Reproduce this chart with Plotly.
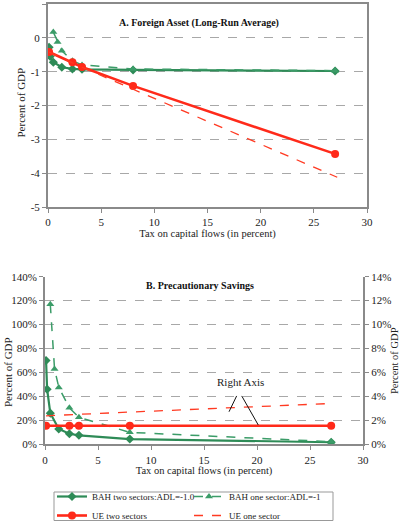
import plotly.graph_objects as go

# ---------------- data ----------------
# Panel A: Foreign asset (long-run average), percent of GDP
bah2_x = [0.1, 0.2, 0.5, 1.3, 2.3, 3.2, 8, 27]
bah2_a = [-0.28, -0.55, -0.72, -0.87, -0.92, -0.93, -0.95, -0.98]
bah1_x = [0.5, 0.9, 1.3, 2.3, 3.2, 8, 27]
bah1_a = [0.17, -0.12, -0.38, -0.68, -0.8, -0.92, -0.97]
ue2_x = [0.1, 2.3, 3.2, 8, 27]
ue2_a = [-0.42, -0.72, -0.86, -1.42, -3.43]
ue1_x = [0.1, 2.3, 3.2, 8, 27.2]
ue1_a = [-0.42, -0.74, -0.87, -1.52, -4.12]

# Panel B: Precautionary savings
bah2_b = [70, 46, 26, 12.8, 8.8, 7.5, 4.4, 1.7]          # left axis, %
bah1_b = [117, 63, 47.5, 30.5, 22.5, 10, 2.2]            # left axis, %
ue2_b = [1.55, 1.55, 1.55, 1.55, 1.55]                   # right axis, %
ue1_b = [2.38, 2.45, 2.5, 2.69, 3.42]                    # right axis, %

xticks = [0, 5, 10, 15, 20, 25, 30]
ya_ticks = [1, 0, -1, -2, -3, -4, -5]
ya_labels = ["1", "0", "-1", "-2", "-3", "-4", "-5"]
yb_left_ticks = [0, 20, 40, 60, 80, 100, 120, 140]
yb_left_labels = ["0%", "20%", "40%", "60%", "80%", "100%", "120%", "140%"]
yb_right_ticks = [0, 2, 4, 6, 8, 10, 12, 14]
yb_right_labels = ["0%", "2%", "4%", "6%", "8%", "10%", "12%", "14%"]

GREEN = "#2e8b57"
GREEN2 = "#3b9c68"
RED = "#ff2a1a"
RED2 = "#ff3a22"
FONT = "Liberation Serif"

W, H = 399, 521
def px(v): return v / W
def py(v): return (H - v) / H

fig = go.Figure()

# Panel A traces
fig.add_trace(go.Scatter(x=bah2_x, y=bah2_a, mode="lines+markers", xaxis="x", yaxis="y",
                         line=dict(color=GREEN, width=2.2), marker=dict(symbol="diamond", size=7, color=GREEN),
                         showlegend=False, legendgroup="a"))
fig.add_trace(go.Scatter(x=bah1_x, y=bah1_a, mode="lines+markers", xaxis="x", yaxis="y",
                         line=dict(color=GREEN2, width=1.5, dash="dash"), marker=dict(symbol="triangle-up", size=7, color=GREEN2),
                         showlegend=False, legendgroup="b"))
fig.add_trace(go.Scatter(x=ue2_x, y=ue2_a, mode="lines+markers", xaxis="x", yaxis="y",
                         line=dict(color=RED, width=2.6), marker=dict(symbol="circle", size=8, color=RED),
                         showlegend=False, legendgroup="c"))
fig.add_trace(go.Scatter(x=ue1_x, y=ue1_a, mode="lines", xaxis="x", yaxis="y",
                         line=dict(color=RED2, width=1.3, dash="dash"),
                         showlegend=False, legendgroup="d"))

# Panel B traces (legend entries: column 1 -> legend, column 2 -> legend2)
fig.add_trace(go.Scatter(x=bah2_x, y=bah2_b, mode="lines+markers", xaxis="x2", yaxis="y2",
                         name="BAH two sectors:ADL=-1.0", legend="legend",
                         line=dict(color=GREEN, width=2.2), marker=dict(symbol="diamond", size=7, color=GREEN),
                         legendgroup="a"))
fig.add_trace(go.Scatter(x=bah1_x, y=bah1_b, mode="lines+markers", xaxis="x2", yaxis="y2",
                         name="BAH one sector:ADL=-1", legend="legend2",
                         line=dict(color=GREEN2, width=1.5, dash="dash"), marker=dict(symbol="triangle-up", size=7, color=GREEN2),
                         legendgroup="b"))
fig.add_trace(go.Scatter(x=ue2_x, y=ue2_b, mode="lines+markers", xaxis="x2", yaxis="y3",
                         name="UE two sectors", legend="legend",
                         line=dict(color=RED, width=2.6), marker=dict(symbol="circle", size=8, color=RED),
                         legendgroup="c"))
fig.add_trace(go.Scatter(x=ue1_x, y=ue1_b, mode="lines", xaxis="x2", yaxis="y3",
                         name="UE one sector", legend="legend2",
                         line=dict(color=RED2, width=1.3, dash="dash"),
                         legendgroup="d"))

tickfont = dict(family=FONT, size=11, color="#222")
axline = "#8a8a8a"
grid = dict(showgrid=True, gridcolor="#a8a8a8", griddash="dash", gridwidth=1)
common = dict(automargin=False, showline=True, linecolor=axline, linewidth=2,
              ticks="outside", ticklen=4, tickcolor=axline, zeroline=False, tickfont=tickfont)
legend_common = dict(orientation="v", yanchor="top", xanchor="left", y=py(482),
                     borderwidth=0, bgcolor="rgba(0,0,0,0)", tracegroupgap=0, itemwidth=30,
                     font=dict(family=FONT, size=9, color="#222"))
ytitle = dict(textangle=-90, showarrow=False, xref="paper", yref="paper",
              xanchor="center", yanchor="middle")

fig.update_layout(
    width=W, height=H,
    margin=dict(l=0, r=0, t=0, b=0, autoexpand=False),
    paper_bgcolor="white", plot_bgcolor="white",
    font=dict(family=FONT, size=11, color="#222"),
    xaxis=dict(domain=[px(48), px(367)], range=[0, 30], tickvals=xticks, anchor="y",
               mirror=True, showgrid=False, **common,
               title=dict(text="Tax on capital flows (in percent)", font=dict(family=FONT, size=10.5), standoff=2)),
    yaxis=dict(domain=[py(207), py(4)], range=[-5, 1], tickvals=ya_ticks, ticktext=ya_labels, anchor="x",
               mirror=True, **grid, **common),
    xaxis2=dict(domain=[px(45), px(363)], range=[0, 30], tickvals=xticks, anchor="y2",
                showgrid=False, **common,
                title=dict(text="Tax on capital flows (in percent)", font=dict(family=FONT, size=10.5), standoff=2)),
    yaxis2=dict(domain=[py(444.3), py(276.7)], range=[0, 140], tickvals=yb_left_ticks, ticktext=yb_left_labels,
                anchor="x2", **grid, **common),
    yaxis3=dict(range=[0, 14], tickvals=yb_right_ticks, ticktext=yb_right_labels, overlaying="y2", side="right",
                anchor="x2", showgrid=False, **common),
    legend=dict(x=px(52), **legend_common),
    legend2=dict(x=px(189), **legend_common),
    annotations=[
        dict(text="<b>A. Foreign Asset (Long-Run Average)</b>", xref="paper", yref="paper",
             x=px(199), y=py(15), showarrow=False, font=dict(family=FONT, size=10, color="#111")),
        dict(text="<b>B. Precautionary Savings</b>", xref="paper", yref="paper",
             x=px(199.5), y=py(285), showarrow=False, font=dict(family=FONT, size=10, color="#111")),
        dict(text="Right Axis", xref="x2", yref="y3", x=18.4, y=5.2, showarrow=False,
             font=dict(family=FONT, size=11, color="#222")),
        dict(text="Percent of GDP", x=px(20.5), y=py(103), font=dict(family=FONT, size=11, color="#222"), **ytitle),
        dict(text="Percent of GDP", x=px(8), y=py(372), font=dict(family=FONT, size=11, color="#222"), **ytitle),
        dict(text="Percent of GDP", x=px(394), y=py(361), font=dict(family=FONT, size=10.5, color="#222"), **ytitle),
    ],
    shapes=[
        dict(type="line", xref="x2", yref="y3", x0=18.08, y0=4.04, x1=17.36, y1=2.72,
             line=dict(color="#111", width=1)),
        dict(type="line", xref="x2", yref="y3", x0=18.56, y0=4.04, x1=20.12, y1=1.61,
             line=dict(color="#111", width=1)),
        # legend frame
        dict(type="rect", xref="paper", yref="paper", x0=px(54), x1=px(333), y0=py(520.5), y1=py(492),
             line=dict(color="#999", width=1), fillcolor="rgba(0,0,0,0)", layer="below"),
    ],
)

fig.write_html("out.html", config={"displayModeBar": False},
               post_script="document.body.style.margin='0';document.body.style.overflow='hidden';")
